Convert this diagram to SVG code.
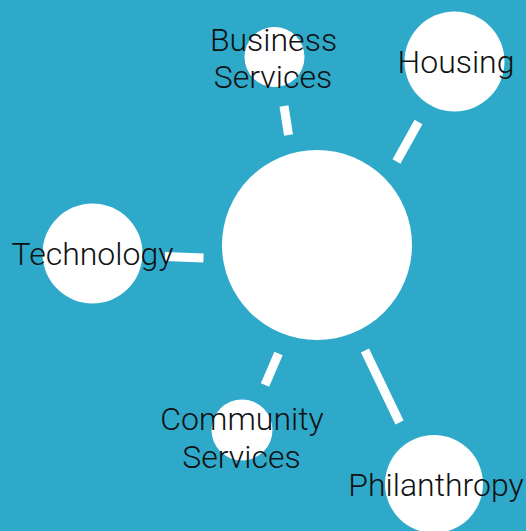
<svg xmlns="http://www.w3.org/2000/svg" width="526" height="531" viewBox="0 0 526 531">
<style>
.bg{fill:#2ea9ca}
.node{fill:#fff}
.link{stroke:#fff;stroke-width:9;fill:none}
.lbl{font-family:Roboto,"Liberation Sans",sans-serif;font-weight:300;font-size:32px;fill:#111;text-anchor:middle}
</style>
<rect class="bg" x="0" y="0" width="526" height="531"/>
<g id="connectors">
<line class="link" x1="284" y1="106" x2="288.5" y2="135"/>
<line class="link" x1="418.5" y1="122" x2="396.5" y2="161.5"/>
<line class="link" x1="165" y1="256.5" x2="203.5" y2="258"/>
<line class="link" x1="278.5" y1="353.5" x2="265" y2="385"/>
<line class="link" x1="365" y1="350.5" x2="399.5" y2="422.5"/>
</g>
<g id="center"><circle class="node" cx="317" cy="245" r="95"/></g>
<g id="business"><circle class="node" cx="274.5" cy="57" r="30"/><text class="lbl" x="273.5" y="51">Business</text><text class="lbl" x="273" y="88">Services</text></g>
<g id="housing"><circle class="node" cx="454.5" cy="61.5" r="50"/><text class="lbl" x="456" y="73">Housing</text></g>
<g id="technology"><circle class="node" cx="92.5" cy="253.5" r="50"/><text class="lbl" x="92.5" y="265">Technology</text></g>
<g id="community"><circle class="node" cx="242" cy="430" r="30.5"/><text class="lbl" x="242" y="430">Community</text><text class="lbl" x="241.5" y="468">Services</text></g>
<g id="philanthropy"><circle class="node" cx="434" cy="484" r="49"/><text class="lbl" x="436" y="496">Philanthropy</text></g>
</svg>
